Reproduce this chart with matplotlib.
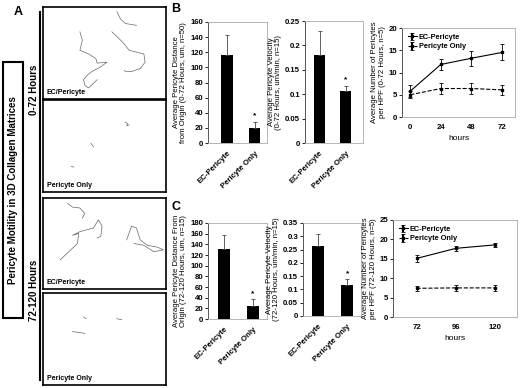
import matplotlib.pyplot as plt
from matplotlib.patches import Rectangle

plt.rcParams['font.family'] = ['Liberation Sans', 'DejaVu Sans']
plt.rcParams['font.weight'] = 'bold'

W, H = 520, 388
FS = 5.6

groups = ["EC-Pericyte", "Pericyte Only"]

# panel B (0-72 h)
dist_b = [116, 20]
dist_b_err = [27, 8]
vel_b = [0.18, 0.106]
vel_b_err = [0.05, 0.011]
hours_b = ["0", "24", "48", "72"]
num_ec_b = [5.8, 11.8, 13.2, 14.5]
num_ec_b_err = [1.3, 1.3, 1.7, 1.8]
num_po_b = [5.0, 6.4, 6.4, 6.1]
num_po_b_err = [0.8, 1.2, 1.2, 1.1]

# panel C (72-120 h)
dist_c = [132, 25]
dist_c_err = [26, 13]
vel_c = [0.262, 0.116]
vel_c_err = [0.047, 0.024]
hours_c = ["72", "96", "120"]
num_ec_c = [15.1, 17.7, 18.6]
num_ec_c_err = [1.0, 0.7, 0.6]
num_po_c = [7.4, 7.5, 7.5]
num_po_c_err = [0.6, 0.7, 0.7]

# cell tracks (box coords 0-1)
tracks_1 = [
    [(0.60, 0.95), (0.63, 0.87), (0.67, 0.82), (0.72, 0.81), (0.76, 0.80)],
    [(0.56, 0.73), (0.60, 0.68), (0.66, 0.60), (0.70, 0.53), (0.76, 0.51), (0.82, 0.49),
     (0.83, 0.40), (0.79, 0.33), (0.72, 0.30), (0.67, 0.30), (0.66, 0.31)],
    [(0.30, 0.73), (0.32, 0.64), (0.30, 0.53), (0.37, 0.49), (0.43, 0.44), (0.44, 0.39),
     (0.52, 0.40), (0.47, 0.35), (0.40, 0.30), (0.36, 0.26), (0.33, 0.21), (0.34, 0.15),
     (0.37, 0.12), (0.41, 0.17), (0.44, 0.21)],
]
tracks_2 = [
    [(0.67, 0.76), (0.69, 0.74), (0.68, 0.72), (0.70, 0.73)],
    [(0.39, 0.53), (0.40, 0.51), (0.41, 0.49)],
    [(0.23, 0.28), (0.25, 0.27)],
]
tracks_3 = [
    [(0.20, 0.94), (0.24, 0.90), (0.30, 0.89), (0.34, 0.83), (0.32, 0.78)],
    [(0.14, 0.32), (0.21, 0.41), (0.28, 0.50), (0.29, 0.61), (0.24, 0.59), (0.30, 0.63),
     (0.41, 0.67), (0.45, 0.76), (0.48, 0.69), (0.47, 0.58), (0.44, 0.56)],
    [(0.68, 0.54), (0.72, 0.69), (0.76, 0.67), (0.79, 0.54), (0.85, 0.48), (0.93, 0.46),
     (0.98, 0.43), (0.90, 0.41), (0.82, 0.48), (0.74, 0.50)],
]
tracks_4 = [
    [(0.33, 0.74), (0.35, 0.72)],
    [(0.60, 0.72), (0.64, 0.71)],
    [(0.24, 0.58), (0.30, 0.57), (0.34, 0.56)],
]

fig = plt.figure(figsize=(W / 100, H / 100), dpi=100)


def ax_px(l, t, r, b):
    return fig.add_axes([l / W, 1 - b / H, (r - l) / W, (b - t) / H])


# ---- panel A ----
fig.text(18 / W, 1 - 12 / H, "A", fontsize=9, ha='center', va='center')
fig.add_artist(plt.Line2D([40 / W, 40 / W], [1 - 12 / H, 1 - 380 / H], color='black', lw=1.5))
fig.add_artist(Rectangle((3 / W, 1 - 318 / H), 20 / W, 256 / H, fill=False, ec='black', lw=1.5))
fig.text(13 / W, 1 - 190 / H, "Pericyte Motility in 3D Collagen Matrices", rotation=90,
         fontsize=7, ha='center', va='center')
fig.text(34 / W, 1 - 90 / H, "0-72 Hours", rotation=90, fontsize=7, ha='center', va='center')
fig.text(34 / W, 1 - 290 / H, "72-120 Hours", rotation=90, fontsize=7, ha='center', va='center')

boxes = [(7, 99, tracks_1, "EC/Pericyte"), (100, 192, tracks_2, "Pericyte Only"),
         (198, 289, tracks_3, "EC/Pericyte"), (293, 385, tracks_4, "Pericyte Only")]
for top, bot, trks, lab in boxes:
    a = ax_px(43, top, 166, bot)
    for t in trks:
        a.plot([p[0] for p in t], [p[1] for p in t], color='#666666', lw=0.5)
    a.set_xlim(0, 1)
    a.set_ylim(0, 1)
    a.set_xticks([])
    a.set_yticks([])
    for s in a.spines.values():
        s.set_linewidth(1.2)
    a.text(0.03, 0.05, lab, fontsize=5, transform=a.transAxes)


def style(a):
    a.tick_params(axis='x', length=0, pad=5)
    a.tick_params(axis='y', length=2, width=0.6, pad=1.5)
    for s in ['top', 'right', 'bottom']:
        a.spines[s].set_color('#aaaaaa')
        a.spines[s].set_linewidth(0.6)
    a.spines['left'].set_color('#555555')
    a.spines['left'].set_linewidth(0.7)


# ---- bar charts ----
def bar_chart(rect, vals, errs, ymax, step, xlim, ylabel, fmt):
    a = ax_px(*rect)
    x = [0, 1]
    a.bar(x, vals, width=0.42, color='black')
    a.errorbar(x, vals, yerr=[[0, 0], errs], fmt='none', ecolor='#444444', elinewidth=0.6,
               capsize=1.5, capthick=0.6)
    a.text(1, vals[1] + errs[1] + ymax * 0.02, "*", ha='center', va='bottom', fontsize=6)
    a.set_xlim(*xlim)
    a.set_ylim(0, ymax)
    ticks = [i * step for i in range(int(round(ymax / step)) + 1)]
    a.set_yticks(ticks)
    a.set_yticklabels([fmt(v) for v in ticks], fontsize=FS)
    a.set_xticks(x)
    a.set_xticklabels(groups, rotation=45, ha='right', rotation_mode='anchor', fontsize=FS)
    style(a)
    a.set_ylabel(ylabel, fontsize=FS, labelpad=2, linespacing=1.05)
    return a


bar_chart((208, 22, 267, 143), dist_b, dist_b_err, 160, 20, (-0.69, 1.45),
          "Average Pericyte Distance\nfrom Origin (0-72 Hours, um, n=50)", lambda v: "%d" % v)
bar_chart((305, 21, 363, 143), vel_b, vel_b_err, 0.25, 0.05, (-0.56, 1.67),
          "Average Pericyte Velocity\n(0-72 Hours, um/min, n=15)", lambda v: "%g" % round(v, 2))
bar_chart((208, 223, 267, 319), dist_c, dist_c_err, 180, 20, (-0.55, 1.48),
          "Average Pericyte Distance From\nOrigin (72-120 Hours, um, n=15)", lambda v: "%d" % v)
bar_chart((303, 223, 361, 316), vel_c, vel_c_err, 0.35, 0.05, (-0.53, 1.47),
          "Average Pericyte Velocity\n(72-120 Hours, um/min, n=15)", lambda v: "%g" % round(v, 2))

fig.text(176 / W, 1 - 9 / H, "B", fontsize=9, ha='center', va='center')
fig.text(176 / W, 1 - 207 / H, "C", fontsize=9, ha='center', va='center')


# ---- line charts ----
def line_chart(rect, labels, ec, ec_err, po, po_err, ymax, xlim, ylabel):
    a = ax_px(*rect)
    x = list(range(len(labels)))
    a.errorbar(x, ec, yerr=ec_err, color='black', lw=0.8, marker='s', ms=1.8,
               capsize=1.5, elinewidth=0.6, capthick=0.6, label="EC-Pericyte")
    a.errorbar(x, po, yerr=po_err, color='black', lw=0.8, ls='--', marker='s', ms=1.8,
               capsize=1.5, elinewidth=0.6, capthick=0.6, label="Pericyte Only")
    a.set_xlim(*xlim)
    a.set_ylim(0, ymax)
    a.set_yticks(range(0, ymax + 1, 5))
    a.set_yticklabels([str(v) for v in range(0, ymax + 1, 5)], fontsize=FS)
    a.set_xticks(x)
    a.set_xticklabels(labels, fontsize=FS)
    style(a)
    a.set_xlabel("hours", fontsize=6, labelpad=3)
    a.set_ylabel(ylabel, fontsize=FS, labelpad=2, linespacing=1.05)
    leg = a.legend(loc='upper left', fontsize=5.3, frameon=False, handlelength=1.2,
                   handletextpad=0.3, labelspacing=0.3, borderaxespad=0.4)
    for h in leg.legend_handles:
        try:
            h.set_linestyle('-')
        except Exception:
            pass
    return a


line_chart((402, 28, 515, 117), hours_b, num_ec_b, num_ec_b_err, num_po_b, num_po_b_err,
           20, (-0.27, 3.43), "Average Number of Pericytes\nper HPF (0-72 Hours, n=5)")
line_chart((393, 220, 517, 317), hours_c, num_ec_c, num_ec_c_err, num_po_c, num_po_c_err,
           25, (-0.6, 2.55), "Average Number of Pericytes\nper HPF (72-120 Hours, n=5)")

fig.savefig("out.png", dpi=100)
